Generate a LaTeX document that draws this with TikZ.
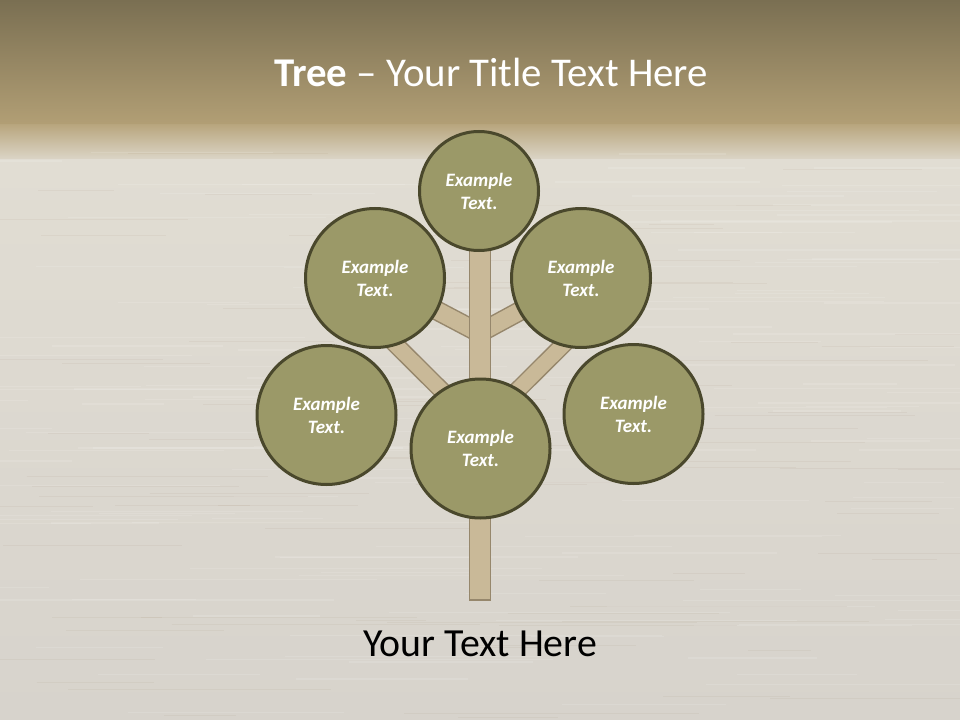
\documentclass[tikz,border=0pt]{standalone}
\usepackage{fontspec}
\setmainfont{Carlito}
\definecolor{bandtop}{RGB}{122,111,82}
\definecolor{bandbot}{RGB}{178,159,117}
\definecolor{fadetop}{RGB}{184,166,126}
\definecolor{fadebot}{RGB}{220,214,200}
\definecolor{woodtop}{RGB}{225,221,211}
\definecolor{woodbot}{RGB}{215,211,204}
\definecolor{leaf}{RGB}{155,153,104}
\definecolor{leafline}{RGB}{74,72,44}
\definecolor{barkfill}{RGB}{201,185,152}
\definecolor{barkline}{RGB}{150,135,108}
\begin{document}
\begin{tikzpicture}[x=1bp,y=-1bp,
  leafnode/.style={circle,fill=leaf,draw=leafline,line width=3bp,inner sep=0pt,
    text=white,align=center,font=\fontsize{19}{23}\selectfont\bfseries\itshape},
  bigleaf/.style={leafnode,minimum size=139bp},
  smallleaf/.style={leafnode,minimum size=119bp},
  branch/.style={draw=barkline,line width=1.5bp,double=barkfill,double distance=#1,line cap=butt},
  grain/.style={line width=#1,white,opacity=0.12}]
% background
\useasboundingbox (0,0) rectangle (960,720);
\shade[top color=bandtop,bottom color=bandbot] (0,0) rectangle (960,125);
\shade[top color=fadetop,bottom color=fadebot] (0,124.5) rectangle (960,160);
\shade[top color=woodtop,bottom color=woodbot] (0,159.5) rectangle (960,720);
\pgfmathsetseed{7}
\foreach \i in {1,...,140}{
  \pgfmathsetmacro{\gy}{150+570*rnd}
  \pgfmathsetmacro{\gx}{-100+1000*rnd}
  \pgfmathsetmacro{\gl}{80+300*rnd}
  \pgfmathsetmacro{\gw}{0.5+1.5*rnd}
  \draw[grain=\gw bp] (\gx,\gy) -- ++(\gl,0);
}
\foreach \i in {1,...,80}{
  \pgfmathsetmacro{\gy}{150+570*rnd}
  \pgfmathsetmacro{\gx}{-100+1000*rnd}
  \pgfmathsetmacro{\gl}{60+250*rnd}
  \draw[line width=0.8bp,black!40!brown,opacity=0.05] (\gx,\gy) -- ++(\gl,0);
}
% title
\node[anchor=base,text=white,font=\fontsize{41}{49}\selectfont] (title) at (491,87)
  {\textbf{Tree} – Your Title Text Here};
% leaves (positions)
\coordinate (pT) at (479,191);
\coordinate (pUL) at (375,278);
\coordinate (pUR) at (581,278);
\coordinate (pLL) at (326.5,415);
\coordinate (pLR) at (633.5,414);
\coordinate (pC) at (480.5,448.5);
% branch junctions on the trunk
\coordinate (jUL) at (479.5,333);
\coordinate (jUR) at (479.5,333);
\coordinate (jLL) at (479.5,428);
\coordinate (jLR) at (479.5,428);
\coordinate (eLL) at (386,335);
\coordinate (eLR) at (573,335);
% branches
\draw[branch=17bp] (jUL) -- (pUL);
\draw[branch=17bp] (jUR) -- (pUR);
\draw[branch=15bp] (jLL) -- (eLL);
\draw[branch=15bp] (jLR) -- (eLR);
% trunk
\draw[fill=barkfill,draw=barkline,line width=1.5bp] (469.5,245) rectangle (490.5,600);
% leaves
\node[smallleaf] (t) at (pT) {Example\\Text.};
\node[bigleaf] (ul) at (pUL) {Example\\Text.};
\node[bigleaf] (ur) at (pUR) {Example\\Text.};
\node[bigleaf] (ll) at (pLL) {Example\\Text.};
\node[bigleaf] (lr) at (pLR) {Example\\Text.};
\node[bigleaf] (c) at (pC) {Example\\Text.};
% caption
\node[anchor=base,text=black,font=\fontsize{40}{48}\selectfont] (cap) at (480,656) {Your Text Here};
\end{tikzpicture}
\end{document}
